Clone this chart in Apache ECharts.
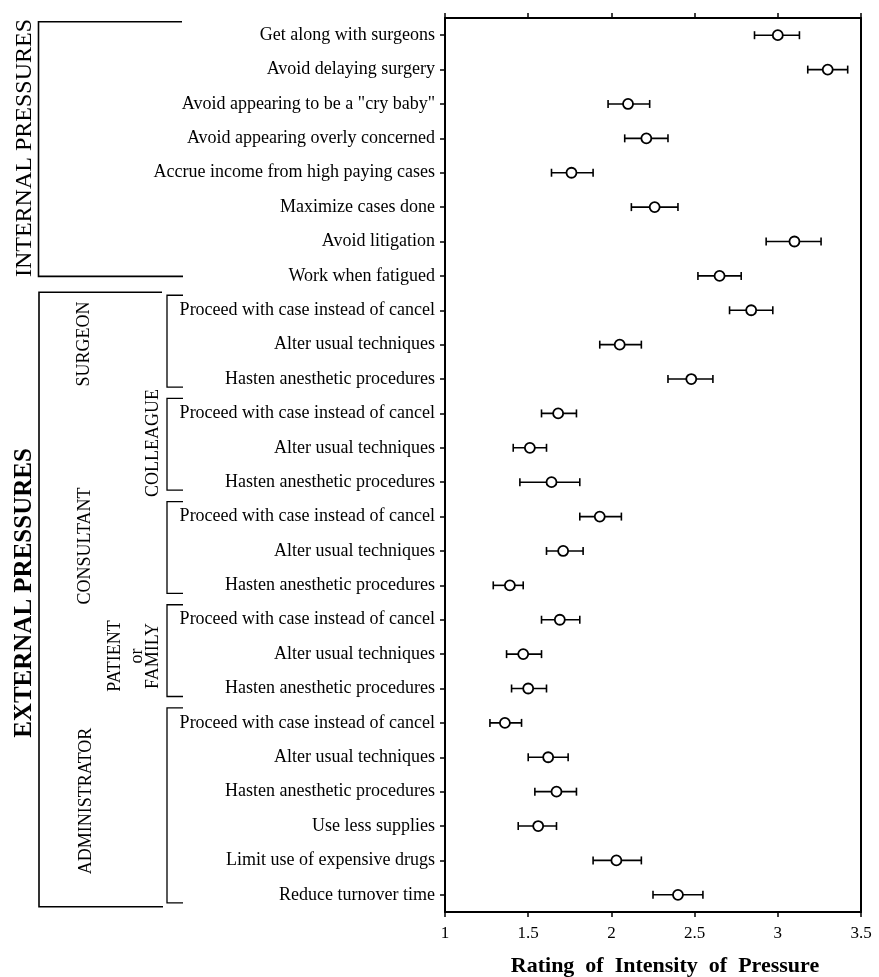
<!DOCTYPE html>
<html>
<head>
<meta charset="utf-8">
<script src="https://cdn.jsdelivr.net/npm/echarts@6/dist/echarts.min.js"></script>
<style>
html,body{margin:0;padding:0;background:#fff;}
#chart{width:879px;height:977px;}
</style>
</head>
<body>
<div id="chart"></div>
<script>
// ---- data ----
var categories = [
  'Get along with surgeons',
  'Avoid delaying surgery',
  'Avoid appearing to be a "cry baby"',
  'Avoid appearing overly concerned',
  'Accrue income from high paying cases',
  'Maximize cases done',
  'Avoid litigation',
  'Work when fatigued',
  'Proceed with case instead of cancel',
  'Alter usual techniques',
  'Hasten anesthetic procedures',
  'Proceed with case instead of cancel',
  'Alter usual techniques',
  'Hasten anesthetic procedures',
  'Proceed with case instead of cancel',
  'Alter usual techniques',
  'Hasten anesthetic procedures',
  'Proceed with case instead of cancel',
  'Alter usual techniques',
  'Hasten anesthetic procedures',
  'Proceed with case instead of cancel',
  'Alter usual techniques',
  'Hasten anesthetic procedures',
  'Use less supplies',
  'Limit use of expensive drugs',
  'Reduce turnover time'
];
var meanValues = [3.00, 3.30, 2.10, 2.21, 1.76, 2.26, 3.10, 2.65, 2.84, 2.05, 2.48, 1.68, 1.51, 1.64, 1.93, 1.71, 1.39, 1.69, 1.47, 1.50, 1.36, 1.62, 1.67, 1.56, 2.03, 2.40];
var lowValues  = [2.86, 3.18, 1.98, 2.08, 1.64, 2.12, 2.93, 2.52, 2.71, 1.93, 2.34, 1.58, 1.41, 1.45, 1.81, 1.61, 1.29, 1.58, 1.37, 1.40, 1.27, 1.50, 1.54, 1.44, 1.89, 2.25];
var highValues = [3.13, 3.42, 2.23, 2.34, 1.89, 2.40, 3.26, 2.78, 2.97, 2.18, 2.61, 1.79, 1.61, 1.81, 2.06, 1.83, 1.47, 1.81, 1.58, 1.61, 1.46, 1.74, 1.79, 1.67, 2.18, 2.55];
var xTicks = [1, 1.5, 2, 2.5, 3, 3.5];
var axisTitle = 'Rating  of  Intensity  of  Pressure';
// groups: [label lines, first row, last row]
var subGroups = [
  {name: ['SURGEON'], first: 8, last: 10},
  {name: ['COLLEAGUE'], first: 11, last: 13},
  {name: ['CONSULTANT'], first: 14, last: 16},
  {name: ['PATIENT', 'or', 'FAMILY'], first: 17, last: 19},
  {name: ['ADMINISTRATOR'], first: 20, last: 25}
];
var mainGroups = [
  {name: 'INTERNAL PRESSURES', first: 0, last: 7, bold: false},
  {name: 'EXTERNAL PRESSURES', first: 8, last: 25, bold: true}
];

var FONT = '"Liberation Serif", "Times New Roman", serif';
var chart = echarts.init(document.getElementById('chart'), null, {renderer: 'canvas'});

var barData = categories.map(function (c, i) { return [lowValues[i], highValues[i], i]; });
var pointData = categories.map(function (c, i) { return [meanValues[i], i]; });

var axisLineStyle = {color: '#000', width: 2};

chart.setOption({
  animation: false,
  backgroundColor: '#fff',
  grid: {left: 445, right: 18, top: 18, bottom: 65, containLabel: false, outerBoundsMode: 'none'},
  xAxis: [{
    type: 'value', position: 'bottom', min: xTicks[0], max: xTicks[xTicks.length - 1], interval: 0.5,
    axisLine: {show: true, lineStyle: axisLineStyle},
    axisTick: {show: true, inside: false, length: 5, lineStyle: {color: '#000', width: 1.5}},
    axisLabel: {color: '#000', fontFamily: FONT, fontSize: 17, margin: 13},
    splitLine: {show: false},
    name: axisTitle, nameLocation: 'middle', nameGap: 43,
    nameTextStyle: {color: '#000', fontFamily: FONT, fontSize: 22, fontWeight: 'bold', padding: [0, 0, 0, 24]}
  }, {
    type: 'value', position: 'top', min: xTicks[0], max: xTicks[xTicks.length - 1], interval: 0.5,
    axisLine: {show: true, lineStyle: axisLineStyle},
    axisTick: {show: true, inside: false, length: 5, lineStyle: {color: '#000', width: 1.5}},
    axisLabel: {show: false},
    splitLine: {show: false}
  }],
  yAxis: [{
    type: 'category', data: categories, inverse: true, position: 'left',
    axisLine: {show: true, lineStyle: axisLineStyle},
    axisTick: {show: true, alignWithLabel: true, length: 5, lineStyle: {color: '#000', width: 1.5}},
    axisLabel: {color: '#000', fontFamily: FONT, fontSize: 18, margin: 10, interval: 0},
    splitLine: {show: false}
  }, {
    type: 'category', data: categories, inverse: true, position: 'right',
    axisLine: {show: true, lineStyle: axisLineStyle},
    axisTick: {show: false}, axisLabel: {show: false}, splitLine: {show: false}
  }],
  series: [{
    type: 'custom',
    xAxisIndex: 0, yAxisIndex: 0,
    data: barData,
    encode: {x: [0, 1], y: 2},
    renderItem: function (params, api) {
      var y = api.value(2);
      var p1 = api.coord([api.value(0), y]);
      var p2 = api.coord([api.value(1), y]);
      var h = 4;
      var st = {stroke: '#000', lineWidth: 1.6};
      return {
        type: 'group',
        children: [
          {type: 'line', shape: {x1: p1[0], y1: p1[1], x2: p2[0], y2: p2[1]}, style: st},
          {type: 'line', shape: {x1: p1[0], y1: p1[1] - h, x2: p1[0], y2: p1[1] + h}, style: st},
          {type: 'line', shape: {x1: p2[0], y1: p2[1] - h, x2: p2[0], y2: p2[1] + h}, style: st}
        ]
      };
    },
    z: 2
  }, {
    type: 'scatter',
    xAxisIndex: 0, yAxisIndex: 0,
    data: pointData,
    symbol: 'circle', symbolSize: 10,
    itemStyle: {color: '#fff', borderColor: '#000', borderWidth: 1.8, opacity: 1},
    z: 3
  }]
});

// ---- annotations derived from the category axis ----
function rowY(i) { return chart.convertToPixel({yAxisIndex: 0}, i); }
var graphics = [];
var lineStyle = {stroke: '#000', lineWidth: 1.6, fill: null};

// main brackets
var intTop = rowY(0) - 13.5, intBot = rowY(7) + 0.5;
graphics.push({type: 'polyline', shape: {points: [[182, intTop], [38.5, intTop], [38.5, intBot], [183, intBot]]}, style: lineStyle});
var extTop = rowY(8) - 18, extBot = rowY(25) + 12;
graphics.push({type: 'polyline', shape: {points: [[162, extTop], [39, extTop], [39, extBot], [163, extBot]]}, style: lineStyle});

graphics.push({type: 'text', x: 25, y: (intTop + intBot) / 2 - 1, rotation: Math.PI / 2,
  style: {text: mainGroups[0].name, fontFamily: FONT, fontSize: 24, fontWeight: 'normal', fill: '#000', textAlign: 'center', textVerticalAlign: 'middle'}});
graphics.push({type: 'text', x: 25, y: 593, rotation: Math.PI / 2,
  style: {text: mainGroups[1].name, fontFamily: FONT, fontSize: 25, fontWeight: 'bold', fill: '#000', textAlign: 'center', textVerticalAlign: 'middle'}});

// sub brackets
subGroups.forEach(function (g) {
  var top = rowY(g.first) - 15, bot = rowY(g.last) + 8;
  graphics.push({type: 'polyline', shape: {points: [[183, top], [167, top], [167, bot], [183, bot]]}, style: {stroke: '#000', lineWidth: 1.3, fill: null}});
});
// sub labels
var subLabelPos = [
  {x: 84, y: 344, text: 'SURGEON'},
  {x: 153, y: 443, text: 'COLLEAGUE'},
  {x: 85, y: 546, text: 'CONSULTANT'},
  {x: 115, y: 656, text: 'PATIENT'},
  {x: 137, y: 656, text: 'or'},
  {x: 153, y: 656, text: 'FAMILY'},
  {x: 86, y: 801, text: 'ADMINISTRATOR'}
];
subLabelPos.forEach(function (s) {
  graphics.push({type: 'text', x: s.x, y: s.y, rotation: Math.PI / 2,
    style: {text: s.text, fontFamily: FONT, fontSize: 18, fill: '#000', textAlign: 'center', textVerticalAlign: 'middle'}});
});

chart.setOption({graphic: graphics});
</script>
</body>
</html>
